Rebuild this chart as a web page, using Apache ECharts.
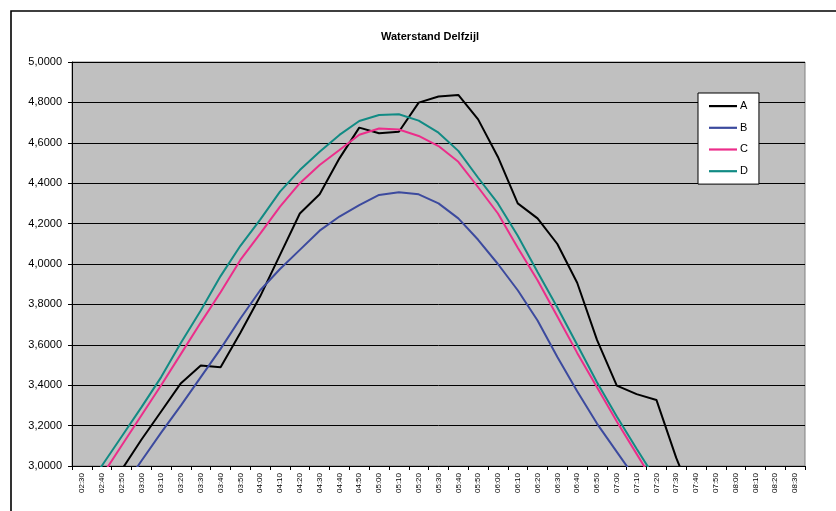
<!DOCTYPE html>
<html>
<head>
<meta charset="utf-8">
<script src="https://cdn.jsdelivr.net/npm/echarts@6/dist/echarts.min.js"></script>
<style>
html,body{margin:0;padding:0;background:#fff;}
#chart{width:836px;height:511px;}
</style>
</head>
<body>
<div id="chart"></div>
<script>
const categories = ['02:30','02:40','02:50','03:00','03:10','03:20','03:30','03:40','03:50','04:00','04:10','04:20','04:30','04:40','04:50','05:00','05:10','05:20','05:30','05:40','05:50','06:00','06:10','06:20','06:30','06:40','06:50','07:00','07:10','07:20','07:30','07:40','07:50','08:00','08:10','08:20','08:30'];

const seriesA = [null, 2.85, 2.98, 3.13, 3.27, 3.41, 3.497, 3.489, 3.66, 3.84, 4.045, 4.25, 4.345, 4.523, 4.675, 4.647, 4.655, 4.799, 4.829, 4.837, 4.716, 4.53, 4.30, 4.226, 4.099, 3.907, 3.624, 3.398, 3.356, 3.327, 3.04, 2.8, null, null, null, null, null];
const seriesB = [null, 2.74, 2.88, 3.025, 3.165, 3.30, 3.44, 3.58, 3.73, 3.87, 3.975, 4.07, 4.165, 4.235, 4.292, 4.342, 4.355, 4.345, 4.30, 4.226, 4.12, 4.00, 3.87, 3.72, 3.54, 3.37, 3.21, 3.07, 2.93, null, null, null, null, null, null, null, null];
const seriesC = [2.80, 2.95, 3.10, 3.25, 3.40, 3.555, 3.71, 3.86, 4.02, 4.15, 4.284, 4.40, 4.49, 4.564, 4.64, 4.671, 4.666, 4.634, 4.584, 4.506, 4.38, 4.25, 4.08, 3.92, 3.74, 3.56, 3.39, 3.22, 3.06, 2.90, null, null, null, null, null, null, null];
const seriesD = [2.86, 3.0, 3.145, 3.29, 3.44, 3.61, 3.77, 3.94, 4.09, 4.22, 4.358, 4.465, 4.556, 4.639, 4.708, 4.738, 4.741, 4.71, 4.65, 4.56, 4.427, 4.30, 4.14, 3.96, 3.785, 3.60, 3.415, 3.245, 3.085, 2.93, null, null, null, null, null, null, null];

const seriesNames = ['A', 'B', 'C', 'D'];
const seriesColors = ['#000000', '#3C4A9E', '#EC2D8A', '#118B84'];
const seriesData = [seriesA, seriesB, seriesC, seriesD];

const chart = echarts.init(document.getElementById('chart'), null, {renderer: 'canvas'});
const font = 'Arial, "Liberation Sans", sans-serif';

chart.setOption({
  animation: false,
  backgroundColor: '#ffffff',
  title: {
    text: 'Waterstand Delfzijl',
    left: 425,
    top: 26,
    textAlign: 'center',
    textStyle: {fontFamily: font, fontSize: 11, fontWeight: 'bold', color: '#000'}
  },
  graphic: [{
    type: 'rect',
    shape: {x: 11, y: 11, width: 900, height: 600},
    style: {fill: 'none', stroke: '#000', lineWidth: 1.6},
    silent: true,
    z: 100
  }],
  legend: {
    orient: 'vertical',
    left: 698,
    top: 93,
    padding: [6, 11, 6, 11],
    itemWidth: 28,
    itemHeight: 14,
    itemGap: 7.7,
    icon: 'path://M0,0M0,14M0,6L28,6L28,8.2L0,8.2Z',
    backgroundColor: '#ffffff',
    borderColor: '#000',
    borderWidth: 1,
    textStyle: {fontFamily: font, fontSize: 11, color: '#000', padding: [0, 0, 0, -2]},
    data: seriesNames
  },
  grid: {
    left: 72, right: 31, top: 62, bottom: 45,
    show: true,
    backgroundColor: '#C0C0C0',
    borderColor: '#808080',
    borderWidth: 1
  },
  xAxis: {
    type: 'category',
    data: categories,
    boundaryGap: true,
    axisLine: {lineStyle: {color: '#000', width: 1}},
    axisTick: {show: true, interval: 0, length: 4, lineStyle: {color: '#000'}},
    axisLabel: {interval: 0, rotate: 90, fontFamily: font, fontSize: 8, color: '#000', margin: 7},
    splitLine: {show: false}
  },
  yAxis: {
    type: 'value',
    min: 3,
    max: 5,
    interval: 0.2,
    axisLine: {show: true, lineStyle: {color: '#000', width: 1}},
    axisTick: {show: true, length: 4, lineStyle: {color: '#000'}},
    axisLabel: {
      fontFamily: font, fontSize: 11, color: '#000', margin: 10,
      formatter: v => v.toFixed(4).replace('.', ',')
    },
    splitLine: {show: true, lineStyle: {color: '#000', width: 1}}
  },
  series: seriesData.map((d, i) => ({
    name: seriesNames[i],
    type: 'line',
    data: d,
    symbol: 'none',
    showSymbol: false,
    clip: true,
    connectNulls: false,
    color: seriesColors[i],
    lineStyle: {color: seriesColors[i], width: 2}
  }))
});
</script>
</body>
</html>
